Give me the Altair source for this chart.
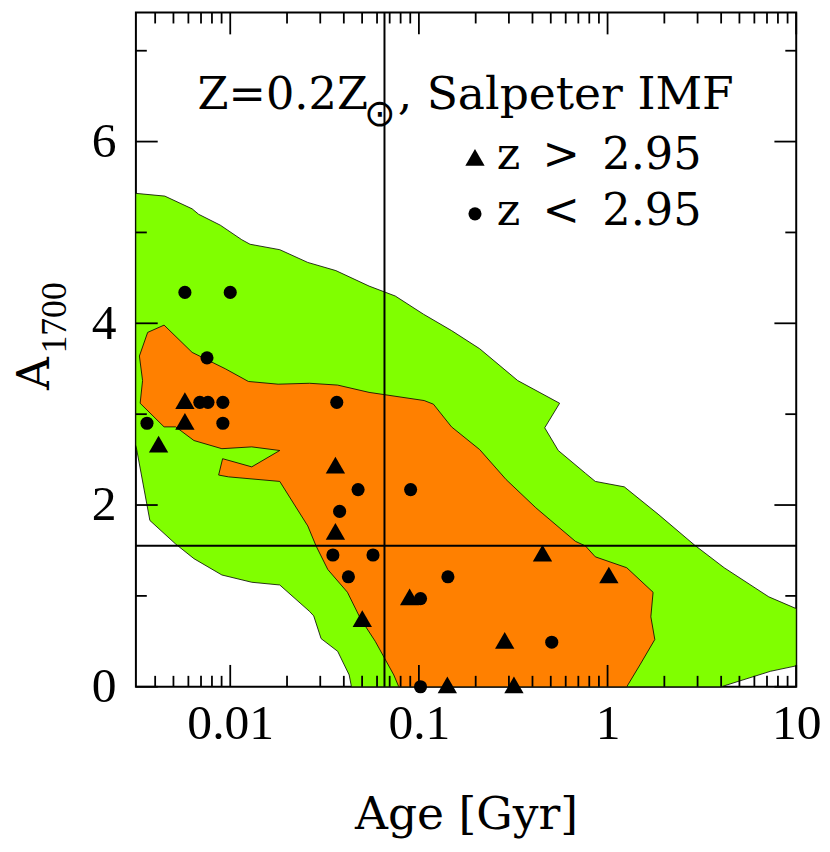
import altair as alt
import pandas as pd

# ---------------- data ----------------
# outer (green) confidence region: Age [Gyr], A1700
green_age = [0.00316, 0.0045, 0.00628, 0.0068, 0.00886, 0.01151, 0.01274, 0.01832, 0.02576, 0.0363,
             0.0544, 0.0750, 0.1058, 0.1489, 0.210, 0.334, 0.557, 0.4645, 0.548, 0.763,
             0.861, 1.227, 1.852, 2.888, 4.15, 7.15, 10.0, 10.0, 7.30, 4.0,
             0.0439, 0.0427, 0.0371, 0.0303, 0.0277, 0.0263, 0.0183, 0.0130, 0.00903, 0.00642,
             0.00514, 0.00375, 0.00316, 0.00316]
green_a = [5.43, 5.40, 5.26, 5.20, 5.08, 4.92, 4.87, 4.81, 4.67, 4.58,
           4.41, 4.30, 4.10, 3.92, 3.72, 3.37, 3.12, 2.85, 2.60, 2.35,
           2.26, 2.20, 1.90, 1.56, 1.31, 0.99, 0.86, 0.23, 0.17, 0.0,
           0.0, 0.13, 0.39, 0.53, 0.78, 0.83, 1.12, 1.15, 1.23, 1.41,
           1.57, 1.83, 2.66, 5.43]

# inner (orange) confidence region
orange_age = [0.00446, 0.00628, 0.00941, 0.01248, 0.01794, 0.0263, 0.0371, 0.0544, 0.1066, 0.1194,
              0.1489, 0.210, 0.290, 0.4167, 0.676, 0.763, 0.861, 1.264, 1.743, 1.696,
              1.780, 1.484, 1.264, 0.0782, 0.0736, 0.0587, 0.0490, 0.0418, 0.0329, 0.0285,
              0.02576, 0.0183, 0.00979, 0.00868, 0.00911, 0.0130, 0.0183, 0.0130, 0.00903, 0.00642,
              0.00514, 0.00446, 0.00333, 0.00343, 0.00330, 0.00365, 0.00446]
orange_a = [3.98, 3.68, 3.50, 3.36, 3.33, 3.34, 3.32, 3.24, 3.15, 3.11,
            2.86, 2.61, 2.28, 1.97, 1.60, 1.55, 1.43, 1.31, 1.04, 0.77,
            0.52, 0.24, 0.0, 0.0, 0.13, 0.50, 0.75, 1.04, 1.29, 1.55,
            1.77, 2.26, 2.31, 2.33, 2.51, 2.42, 2.60, 2.64, 2.62, 2.71,
            2.86, 2.86, 3.12, 3.37, 3.64, 3.90, 3.98]

# galaxies, z < 2.95 (circles)
circ_age = [0.00575, 0.0100, 0.00753, 0.0069, 0.00762, 0.00914, 0.00362, 0.00914, 0.0367, 0.0476,
            0.0904, 0.038, 0.035, 0.0571, 0.0423, 0.1425, 0.102, 0.102, 0.506]
circ_a = [4.34, 4.34, 3.62, 3.13, 3.13, 3.13, 2.90, 2.90, 3.13, 2.17,
          2.17, 1.93, 1.45, 1.45, 1.21, 1.21, 0.97, 0.0, 0.49]

# galaxies, z > 2.95 (triangles)
tri_age = [0.00575, 0.00575, 0.00417, 0.0361, 0.0361, 0.0893, 0.0501, 0.1415, 0.319, 0.452, 1.016, 0.285]
tri_a = [3.15, 2.92, 2.67, 2.44, 1.71, 0.99, 0.75, 0.02, 0.02, 1.47, 1.23, 0.51]

# reference lines
ref_age = [0.0657]
ref_a = [1.553]

# axis ticks
x_major = [0.01, 0.1, 1, 10]
x_minor = [0.004, 0.005, 0.006, 0.007, 0.008, 0.009,
           0.02, 0.03, 0.04, 0.05, 0.06, 0.07, 0.08, 0.09,
           0.2, 0.3, 0.4, 0.5, 0.6, 0.7, 0.8, 0.9,
           2, 3, 4, 5, 6, 7, 8, 9]
y_major = [0, 2, 4, 6]
y_minor = [1, 3, 5, 7]

# ---------------- chart ----------------
W, H = 666, 680
TXT = "DejaVu Serif"
NUM = "Liberation Serif"

xs = alt.Scale(type="log", domain=[0.003162, 10], nice=False)
ys = alt.Scale(domain=[0, 7.42], nice=False, zero=False)

x_axis = alt.Axis(values=x_major, format="~g", labelFont=NUM, labelFontSize=50, labelColor="black",
                  labelFlush=False, labelPadding=12, ticks=False, tickSize=0, domain=False, grid=False,
                  labelOverlap=False,
                  title="Age [Gyr]", titleFont=TXT, titleFontSize=46, titleFontWeight="normal",
                  titleColor="black", titleBaseline="alphabetic", titleY=143)
y_axis = alt.Axis(values=y_major, labelFont=NUM, labelFontSize=50, labelColor="black",
                  labelPadding=20, ticks=False, tickSize=0, domain=False, grid=False,
                  labelFlush=False, labelOverlap=False, title=None)

x_enc = alt.X("age:Q", scale=xs, axis=x_axis)
y_enc = alt.Y("a:Q", scale=ys, axis=y_axis)

def poly(ages, avals, color):
    df = pd.DataFrame({"age": ages, "a": avals, "i": list(range(len(ages)))})
    return alt.Chart(df).mark_line(fill=color, stroke="black", strokeWidth=0.8,
                                   fillOpacity=1, interpolate="linear").encode(
        x=x_enc, y=y_enc, order="i:Q")

green = poly(green_age, green_a, "#80ff00")
orange = poly(orange_age, orange_a, "#ff8000")

vline = alt.Chart(pd.DataFrame({"age": ref_age})).mark_rule(color="black", strokeWidth=2).encode(x=x_enc)
hline = alt.Chart(pd.DataFrame({"a": ref_a})).mark_rule(color="black", strokeWidth=2).encode(y=y_enc)

def xticks(vals, y0, y1):
    return alt.Chart(pd.DataFrame({"age": vals})).mark_rule(color="black", strokeWidth=1.8).encode(
        x=x_enc, y=alt.value(y0), y2=alt.value(y1))

def yticks(vals, x0, x1):
    return alt.Chart(pd.DataFrame({"a": vals})).mark_rule(color="black", strokeWidth=1.8).encode(
        y=y_enc, x=alt.value(x0), x2=alt.value(x1))

ticks = [
    xticks(x_major, H, H - 22), xticks(x_minor, H, H - 11),
    xticks(x_major, 0, 22), xticks(x_minor, 0, 11),
    yticks(y_major, 0, 22), yticks(y_minor, 0, 11),
    yticks(y_major, W, W - 22), yticks(y_minor, W, W - 11),
]

circles = alt.Chart(pd.DataFrame({"age": circ_age, "a": circ_a})).mark_point(
    shape="circle", size=175, filled=True, color="black", opacity=1, strokeWidth=0).encode(x=x_enc, y=y_enc)
triangles = alt.Chart(pd.DataFrame({"age": tri_age, "a": tri_a})).mark_point(
    shape="triangle-up", size=380, filled=True, color="black", opacity=1, strokeWidth=0).encode(x=x_enc, y=y_enc)

one = pd.DataFrame({"k": [0]})

def label(text, x, y, font=TXT, size=46, align="left", baseline="alphabetic", angle=0):
    kw = dict(text=text, font=font, fontSize=size, align=align, baseline=baseline, color="black")
    if angle:
        kw["angle"] = angle
    return alt.Chart(one).mark_text(**kw).encode(x=alt.value(x), y=alt.value(y))

texts = [
    label("Z=0.2Z", 234, 97, size=45, align="right"),
    label("\u2299", 246, 103, font="DejaVu Sans", size=38, align="center", baseline="middle"),
    label(", Salpeter IMF", 264, 97, size=46),
    label("z\u2002>\u20022.95", 364, 158, size=45),
    label("z\u2002<\u20022.95", 364, 214, size=45),
    label("A", -88, 364, size=46, align="center", angle=270),
    label("1700", -71, 308, font=NUM, size=36, align="center", angle=270),
]

leg_tri = alt.Chart(one).mark_point(shape="triangle-up", size=380, filled=True, color="black",
                                    opacity=1, strokeWidth=0).encode(x=alt.value(342), y=alt.value(146))
leg_circ = alt.Chart(one).mark_point(shape="circle", size=175, filled=True, color="black",
                                     opacity=1, strokeWidth=0).encode(x=alt.value(342), y=alt.value(203))

chart = alt.layer(
    green, orange, vline, hline, *ticks, circles, triangles, leg_tri, leg_circ, *texts
).properties(
    width=W, height=H,
    autosize=alt.AutoSizeParams(type="none"),
    padding={"left": 129, "top": 1, "right": 26, "bottom": 155},
).configure_view(stroke="black", strokeWidth=2)

chart.save("out.html", embed_options={"renderer": "svg", "actions": False})
